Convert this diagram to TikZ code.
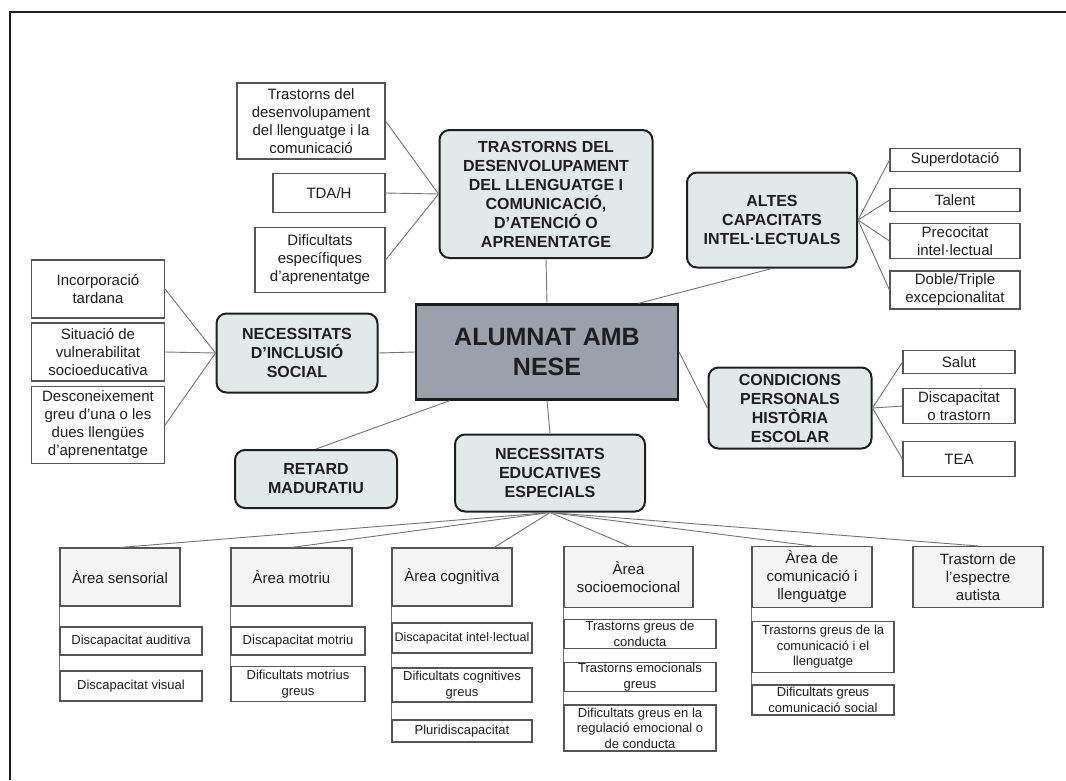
\documentclass[tikz,border=0pt]{standalone}
\usepackage{fontspec}
\setmainfont{Liberation Sans}
\usepackage{tikz}

\definecolor{nesefill}{RGB}{154,161,172}
\definecolor{topicfill}{RGB}{226,233,235}
\definecolor{areafill}{RGB}{245,245,245}
\definecolor{linkgray}{RGB}{115,115,115}
\definecolor{boxgray}{RGB}{85,85,85}
\definecolor{inkgray}{RGB}{30,30,30}

\tikzset{
  main/.style  = {draw=inkgray, line width=2.2pt, fill=nesefill, align=center,
                  font=\fontsize{25}{30}\selectfont\bfseries, text=inkgray},
  topic/.style = {draw=inkgray, line width=2pt, rounded corners=10pt, fill=topicfill,
                  align=center, font=\fontsize{16}{19}\selectfont\bfseries, text=inkgray},
  leaf/.style  = {draw=boxgray, line width=1.1pt, fill=white, align=center, inner sep=2pt,
                  font=\fontsize{15}{18}\selectfont, text=inkgray},
  area/.style  = {leaf, fill=areafill},
  sub/.style   = {leaf, font=\fontsize{13}{15.5}\selectfont},
  link/.style  = {draw=linkgray, line width=0.9pt}
}

\begin{document}
\begin{tikzpicture}[x=1pt, y=-1pt]

  \useasboundingbox (0, 0) rectangle (1066, 780);
  \draw[line width=1.4pt, draw=inkgray] (10, 780) -- (10, 12) -- (1066, 12);

  \node[main, minimum width=262, minimum height=95] (nese) at (547, 352) {ALUMNAT AMB\\NESE};

  % top branch
  \node[topic, minimum width=213, minimum height=128] (trast) at (546, 194)
    {TRASTORNS DEL\\DESENVOLUPAMENT\\DEL LLENGUATGE I\\COMUNICACIÓ,\\D’ATENCIÓ O\\APRENENTATGE};
  \node[leaf, minimum width=148, minimum height=76] (trdl) at (311, 121)
    {Trastorns del\\desenvolupament\\del llenguatge i la\\comunicació};
  \node[leaf, minimum width=112, minimum height=39] (tdah) at (329, 193) {TDA/H};
  \node[leaf, minimum width=130, minimum height=65] (dea) at (320, 260)
    {Dificultats\\específiques\\d’aprenentatge};

  % right branches
  \node[topic, minimum width=170, minimum height=95] (altes) at (772, 220)
    {ALTES\\CAPACITATS\\INTEL·LECTUALS};
  \node[leaf, minimum width=130, minimum height=23] (superd) at (955, 160) {Superdotació};
  \node[leaf, minimum width=130, minimum height=23] (talent) at (955, 200) {Talent};
  \node[leaf, minimum width=130, minimum height=35] (precoc) at (955, 241) {Precocitat\\intel·lectual};
  \node[leaf, minimum width=130, minimum height=38] (doble) at (955, 290) {Doble/Triple\\excepcionalitat};

  \node[topic, minimum width=163, minimum height=81] (cond) at (790, 408)
    {CONDICIONS\\PERSONALS\\HISTÒRIA\\ESCOLAR};
  \node[leaf, minimum width=112, minimum height=23] (salut) at (959, 362) {Salut};
  \node[leaf, minimum width=112, minimum height=35] (discap) at (959, 406) {Discapacitat\\o trastorn};
  \node[leaf, minimum width=112, minimum height=35] (tea) at (959, 459) {TEA};

  % left branch
  \node[topic, minimum width=161, minimum height=79] (nis) at (297, 353)
    {NECESSITATS\\D’INCLUSIÓ\\SOCIAL};
  \node[leaf, minimum width=133, minimum height=58] (incorp) at ( 98, 289) {Incorporació\\tardana};
  \node[leaf, minimum width=133, minimum height=58] (situa) at ( 98, 352)
    {Situació de\\vulnerabilitat\\socioeducativa};
  \node[leaf, minimum width=133, minimum height=77] (desco) at ( 98, 425)
    {Desconeixement\\greu d’una o les\\dues llengües\\d’aprenentatge};

  \node[topic, minimum width=162, minimum height=58] (retard) at (316, 479) {RETARD\\MADURATIU};

  \node[topic, minimum width=190, minimum height=77] (nee) at (550, 473)
    {NECESSITATS\\EDUCATIVES\\ESPECIALS};

  % areas
  \node[area, minimum width=120, minimum height=58] (sens) at (120, 577) {Àrea sensorial};
  \node[area, minimum width=121, minimum height=58] (motr) at (291.5, 577) {Àrea motriu};
  \node[area, minimum width=120, minimum height=58] (cogn) at (452, 577) {Àrea cognitiva};
  \node[area, minimum width=129, minimum height=61] (socio) at (628.5, 577) {Àrea\\socioemocional};
  \node[area, minimum width=120, minimum height=61] (comu) at (812, 577) {Àrea de\\comunicació i\\llenguatge};
  \node[area, minimum width=130, minimum height=61] (autis) at (978, 577) {Trastorn de\\l’espectre\\autista};

  \node[sub, minimum width=142, minimum height=28] (aud) at (131, 641) {Discapacitat auditiva};
  \node[sub, minimum width=142, minimum height=30] (vis) at (131, 686) {Discapacitat visual};

  \node[sub, minimum width=134, minimum height=28] (dmot) at (298, 641) {Discapacitat motriu};
  \node[sub, minimum width=134, minimum height=35] (dmotg) at (298, 684) {Dificultats motrius\\greus};

  \node[sub, minimum width=140, minimum height=30, font=\fontsize{12.5}{15}\selectfont] (dint) at (462, 638) {Discapacitat intel·lectual};
  \node[sub, minimum width=140, minimum height=34] (dcog) at (462, 685) {Dificultats cognitives\\greus};
  \node[sub, minimum width=140, minimum height=22] (plur) at (462, 731) {Pluridiscapacitat};

  \node[sub, minimum width=152, minimum height=29, inner sep=0pt] (tgc) at (640, 634) {Trastorns greus de\\conducta};
  \node[sub, minimum width=152, minimum height=29, inner sep=0pt] (teg) at (640, 677) {Trastorns emocionals\\greus};
  \node[sub, minimum width=152, minimum height=46, inner sep=0pt] (dgr) at (640, 728)
    {Dificultats greus en la\\regulació emocional o\\de conducta};

  \node[sub, minimum width=142, minimum height=51, inner sep=0pt] (tgcl) at (823, 647)
    {Trastorns greus de la\\comunicació i el\\llenguatge};
  \node[sub, minimum width=142, minimum height=30, inner sep=0pt] (dgcs) at (823, 700)
    {Dificultats greus\\comunicació social};

  % connectors
  \draw[link] (nese.north) -- (trast.south);
  \foreach \n in {trdl, tdah, dea}
    \draw[link] (\n.east) -- (trast.west);
  \draw[link] (nese.28) -- (altes.south);
  \foreach \n in {superd, talent, precoc, doble}
    \draw[link] (altes.east) -- (\n.west);
  \draw[link] (nese.east) -- (cond.west);
  \foreach \n in {salut, discap, tea}
    \draw[link] (cond.east) -- (\n.west);
  \draw[link] (nese.west) -- (nis.east);
  \foreach \n in {incorp, situa, desco}
    \draw[link] (\n.east) -- (nis.west);
  \draw[link] ([xshift=35pt]nese.south west) -- (retard.north);
  \draw[link] (nese.south) -- (nee.north);

  \foreach \n in {sens, motr, socio, comu, autis}
    \draw[link] (nee.south) -- (\n.north);
  \draw[link] (nee.south) -- (cogn.35);

  \draw[link] (sens.south west) -- (aud.north west);
  \draw[link] (aud.south west) -- (vis.north west);
  \draw[link] (motr.south west) -- (dmot.north west);
  \draw[link] (dmot.south west) -- (dmotg.north west);
  \draw[link] (cogn.south west) -- (dint.north west);
  \draw[link] (dint.south west) -- (dcog.north west);
  \draw[link] (dcog.south west) -- (plur.north west);
  \draw[link] (socio.south west) -- (tgc.north west);
  \draw[link] (tgc.south west) -- (teg.north west);
  \draw[link] (teg.south west) -- (dgr.north west);
  \draw[link] (comu.south west) -- (tgcl.north west);
  \draw[link] (tgcl.south west) -- (dgcs.north west);

\end{tikzpicture}
\end{document}
